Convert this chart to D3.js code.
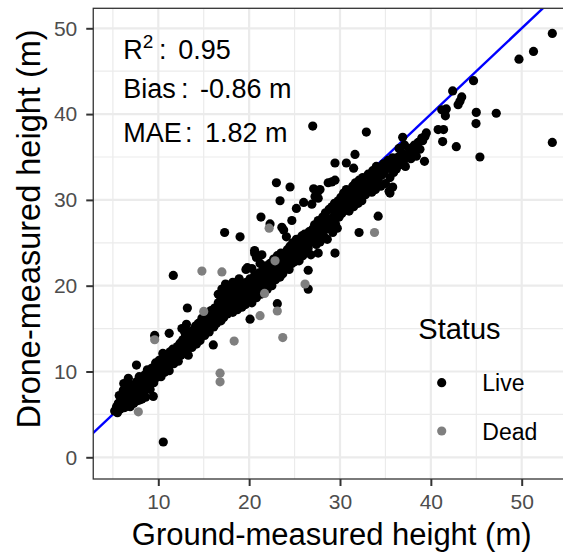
<!DOCTYPE html>
<html>
<head>
<meta charset="utf-8">
<script src="https://cdn.jsdelivr.net/npm/d3@7"></script>
<style>
  body { margin: 0; background: #fff; }
  text { font-family: "Liberation Sans", Arial, Helvetica, sans-serif; }
</style>
</head>
<body>
<div id="chart-area"></div>
<script>
// [ground-measured, drone-measured] heights in m
var livePoints = [
  // scattered / outliers
  [53.37, 49.4], [51.3, 47.3], [49.7, 46.4], [44.7, 43.9], [42.4, 42.7], [43.4, 42.0], [43.2, 41.5], [43.0, 41.1],
  [41.2, 40.5], [41.7, 40.6], [41.6, 39.8], [45.0, 40.2], [47.2, 40.1], [44.97, 38.9], [53.37, 36.7], [45.4, 35.0],
  [42.8, 36.2], [41.3, 36.8], [40.8, 38.2], [41.4, 38.2], [39.5, 37.8], [39.35, 37.4], [39.1, 36.9], [36.9, 37.3],
  [32.9, 37.9], [39.3, 34.5], [38.1, 36.2], [37.7, 35.6], [38.25, 35.2], [31.65, 35.3], [29.45, 34.3], [30.7, 34.3],
  [31.5, 33.7], [34.2, 28.1], [32.1, 26.2], [35.5, 30.8], [29.1, 32.1], [29.45, 32.3], [27.8, 31.2], [27.0, 38.6],
  [23.0, 32.0], [24.5, 31.5], [23.4, 29.9], [27.1, 31.3], [27.6, 31.0], [28.7, 32.0], [26.0, 29.7], [25.2, 29.0],
  [26.9, 29.5], [27.6, 30.2], [21.3, 28.0], [22.3, 27.2], [23.6, 26.8], [24.7, 27.6], [23.8, 26.5], [17.3, 26.2],
  [19.0, 25.7], [11.65, 21.2], [19.65, 21.9], [20.6, 23.8], [21.2, 22.6], [19.2, 20.3], [10.55, 1.78], [7.6, 10.75],
  [6.7, 9.2], [9.6, 14.2], [11.2, 14.45], [10.5, 12.1], [16.05, 13.1], [13.2, 17.4], [20.1, 16.1], [23.1, 17.9],
  [26.5, 21.8], [26.5, 19.6], [27.6, 23.8], [29.45, 23.8], [24.1, 25.7], [27.25, 30.4], [34.0, 33.9], [35.4, 31.0],
  [35.8, 31.5], [20.6, 24.1], [20.8, 23.3], [21.4, 23.6], [19.8, 22.1], [20.3, 22.0], [12.6, 15.0], [13.1, 15.5],
  [12.9, 14.6], [16.6, 19.0], [17.0, 19.6], [17.4, 20.2], [17.8, 19.8], [18.2, 20.4], [18.6, 20.0], [18.9, 20.8],
  [16.9, 18.6], [17.6, 19.1],
  // main band
  [5.2, 5.4], [5.4, 5.9], [5.5, 5.2], [5.6, 6.3], [5.8, 5.6], [5.9, 6.8], [6.0, 5.9], [6.1, 6.4], [6.2, 7.4], [6.3, 5.8],
  [6.4, 6.9], [6.5, 6.2], [6.6, 7.8], [6.7, 6.6], [6.8, 7.1], [6.9, 5.9], [7.0, 8.4], [7.1, 6.8], [7.2, 7.5], [5.7, 7.2],
  [6.2, 8.6], [6.5, 7.3], [6.15, 7.8],
  [7.3, 6.3], [7.4, 8.0], [7.5, 7.1], [7.6, 8.8], [7.7, 6.6], [7.8, 7.7], [7.9, 9.4], [8.0, 8.3], [8.1, 7.2], [8.2, 9.0],
  [8.3, 8.6], [8.4, 7.6], [8.5, 9.6], [8.6, 8.1], [8.7, 9.1], [8.8, 10.2], [8.9, 8.5], [9.0, 9.7], [8.2, 6.8], [8.6, 7.0],
  [9.1, 7.9], [8.0, 6.7], [9.45, 7.1], [7.25, 6.3],
  [9.2, 9.0], [9.3, 10.4], [9.4, 9.5], [9.5, 8.7], [9.6, 10.0], [9.7, 11.0], [9.8, 9.3], [9.9, 10.5], [10.0, 9.8],
  [10.1, 11.3], [10.2, 10.2], [10.3, 9.4], [10.4, 10.8], [10.5, 11.6], [10.6, 10.3], [10.7, 9.9], [10.8, 11.1],
  [10.9, 12.0], [11.0, 10.6], [11.1, 11.5], [11.2, 10.1], [11.3, 12.3], [11.4, 11.0], [11.5, 11.8], [11.6, 12.6],
  [11.7, 10.9], [11.8, 11.4], [11.9, 12.2],
  [12.0, 11.7], [12.1, 12.9], [12.2, 11.2], [12.3, 12.4], [12.4, 13.3], [12.5, 11.9], [12.6, 12.7], [12.7, 13.7],
  [12.8, 12.2], [12.9, 13.0], [13.0, 14.2], [13.1, 12.6], [13.2, 13.5], [13.3, 11.9], [13.4, 14.6], [13.5, 13.0],
  [13.6, 13.9], [13.7, 12.8], [13.8, 14.8], [13.9, 13.4], [14.0, 14.2], [14.1, 15.3], [14.2, 13.2], [14.3, 14.0],
  [14.4, 15.6], [14.5, 14.4], [14.6, 13.6], [14.7, 15.0], [14.8, 16.2], [14.9, 14.6],
  [15.0, 15.3], [15.1, 14.2], [15.2, 16.0], [15.3, 15.0], [15.4, 16.6], [15.5, 15.6], [15.6, 14.6], [15.7, 16.3],
  [15.8, 17.1], [15.9, 15.8], [16.0, 16.7], [16.1, 15.2], [16.2, 17.4], [16.3, 16.2], [16.4, 15.6], [16.5, 17.0],
  [16.6, 18.0], [16.7, 16.5], [16.8, 17.5], [16.9, 15.9], [17.0, 18.3], [17.1, 17.0], [17.2, 16.3], [17.3, 17.8],
  [17.4, 18.8], [17.5, 17.3], [17.6, 16.7], [17.7, 18.4], [17.8, 19.3], [17.9, 17.6],
  [18.0, 17.4], [18.1, 18.6], [18.2, 16.9], [18.3, 18.1], [18.4, 19.2], [18.5, 17.7], [18.6, 18.9], [18.7, 17.2],
  [18.8, 18.4], [18.9, 19.5], [19.0, 17.9], [19.1, 18.8], [19.2, 17.5], [19.3, 19.9], [19.4, 18.3], [19.5, 19.1],
  [19.6, 17.8], [19.7, 20.4], [19.8, 18.7], [19.9, 19.6], [20.0, 18.2], [20.1, 20.8], [20.2, 19.3], [20.3, 18.0],
  [20.4, 20.1], [20.5, 19.0], [20.6, 21.2], [20.7, 19.7], [20.8, 18.6], [20.9, 20.5],
  [21.0, 19.4], [21.1, 21.5], [21.2, 20.2], [21.3, 19.0], [21.4, 20.9], [21.5, 21.8], [21.6, 19.8], [21.7, 20.6],
  [21.8, 22.3], [21.9, 21.1], [22.0, 19.6], [22.1, 21.7], [22.2, 20.4], [22.3, 22.6], [22.4, 21.2], [22.5, 20.0],
  [22.6, 22.0], [22.7, 23.1], [22.8, 21.5], [22.9, 20.7], [23.0, 22.4], [23.1, 23.5], [23.2, 21.8], [23.3, 22.9],
  [23.4, 21.0], [23.5, 23.8], [23.6, 22.3], [23.7, 21.4], [23.8, 23.2], [23.9, 22.6],
  [24.0, 23.6], [24.1, 22.1], [24.2, 24.2], [24.3, 23.0], [24.4, 21.9], [24.5, 24.6], [24.6, 23.4], [24.7, 22.6],
  [24.8, 25.0], [24.9, 23.9], [25.0, 22.8], [25.1, 24.5], [25.2, 25.4], [25.3, 23.6], [25.4, 24.1], [25.5, 22.9],
  [25.6, 25.1], [25.7, 24.0], [25.8, 25.8], [25.9, 23.5], [26.0, 24.7], [26.1, 26.0], [26.2, 25.2], [26.3, 23.9],
  [26.4, 25.6], [26.5, 24.4], [26.6, 26.3], [26.7, 25.0], [26.8, 23.6], [26.9, 25.9],
  [27.0, 26.6], [27.1, 25.3], [27.2, 27.1], [27.3, 25.9], [27.4, 24.8], [27.5, 26.9], [27.6, 27.6], [27.7, 26.0],
  [27.8, 25.1], [27.9, 27.3], [28.0, 26.4], [28.1, 28.0], [28.2, 25.8], [28.3, 27.0], [28.4, 28.5], [28.5, 26.6],
  [28.6, 25.4], [28.7, 27.8], [28.8, 28.9], [28.9, 26.9], [29.0, 27.5], [29.1, 29.2], [29.2, 26.2], [29.3, 28.1],
  [29.4, 29.6], [29.5, 27.2], [29.6, 28.6], [29.7, 26.7], [29.8, 29.9], [29.9, 28.0],
  [30.0, 29.0], [30.1, 30.3], [30.2, 28.4], [30.3, 29.6], [30.4, 30.8], [30.5, 28.9], [30.6, 29.9], [30.7, 31.2],
  [30.8, 29.3], [30.9, 30.5], [31.0, 28.7], [31.1, 31.0], [31.2, 29.8], [31.3, 30.4], [31.4, 31.6], [31.5, 29.2],
  [31.6, 30.9], [31.7, 32.0], [31.8, 30.0], [31.9, 31.3], [32.0, 29.6], [32.1, 32.3], [32.2, 30.7], [32.3, 31.6],
  [32.4, 29.9], [32.5, 32.6], [32.6, 31.1],
  [32.8, 30.6], [33.0, 31.9], [33.1, 33.0], [33.2, 31.4], [33.4, 32.5], [33.5, 30.9], [33.6, 33.4], [33.8, 32.0],
  [33.9, 31.2], [34.0, 33.1], [34.2, 32.4], [34.3, 33.8], [34.5, 31.6], [34.6, 32.9], [34.8, 34.2], [34.9, 33.3],
  [35.0, 31.9], [35.2, 33.7], [35.3, 34.6], [35.5, 32.6], [35.6, 33.9], [35.8, 34.9], [35.9, 33.2], [36.0, 34.4],
  [36.2, 33.6], [36.4, 35.0], [36.6, 34.1], [36.8, 35.5], [37.0, 34.6], [37.2, 33.9], [37.4, 35.2], [37.6, 36.0],
  [37.8, 34.8], [38.0, 35.6], [38.2, 36.4], [38.4, 35.1], [38.6, 36.7], [38.8, 35.9], [39.0, 37.2], [37.1, 36.4],
  [36.5, 36.0]
];

var deadPoints = [
  [33.8, 26.2], [22.2, 26.7], [14.8, 21.7], [17.0, 21.6], [7.8, 5.3], [16.8, 9.8], [16.8, 8.8], [9.6, 13.7],
  [18.35, 13.55], [15.0, 17.0], [21.2, 16.5], [23.1, 17.05], [23.7, 13.95], [21.7, 19.1], [26.15, 20.2], [22.85, 22.9]
];

var statusLabels = ["Live", "Dead"];
var statusColors = ["#000000", "#7f7f7f"];

var xTicks = [10, 20, 30, 40, 50];
var yTicks = [0, 10, 20, 30, 40, 50];
var xMinor = [5, 15, 25, 35, 45, 55];
var yMinor = [5, 15, 25, 35, 45];

var stats = [
  { label: "Bias", value: "-0.86 m" },
  { label: "MAE", value: "1.82 m" }
];
var r2Value = "0.95";

var totalW = 563, totalH = 552;
var margin = { left: 93.25, right: -12.3, top: 8.3, bottom: 73 };
var width = totalW - margin.left - margin.right;
var height = totalH - margin.top - margin.bottom;

var svg = d3.select("#chart-area")
    .append("svg")
    .attr("width", totalW)
    .attr("height", totalH);

var group = svg.append("g")
    .attr("transform", "translate(" + margin.left + "," + margin.top + ")");

var x = d3.scaleLinear()
    .domain([2.84, 55.9])
    .range([0, width]);

var y = d3.scaleLinear()
    .domain([-2.53, 52.33])
    .range([height, 0]);

svg.append("defs").append("clipPath")
    .attr("id", "panel-clip")
    .append("rect")
    .attr("width", width)
    .attr("height", height);

// grid lines
var grid = group.append("g");
grid.selectAll(".xminor").data(xMinor).enter().append("line")
    .attr("x1", d => x(d)).attr("x2", d => x(d))
    .attr("y1", 0).attr("y2", height)
    .attr("stroke", "#ebebeb").attr("stroke-width", 1.2);
grid.selectAll(".yminor").data(yMinor).enter().append("line")
    .attr("y1", d => y(d)).attr("y2", d => y(d))
    .attr("x1", 0).attr("x2", width)
    .attr("stroke", "#ebebeb").attr("stroke-width", 1.2);
grid.selectAll(".xmajor").data(xTicks).enter().append("line")
    .attr("x1", d => x(d)).attr("x2", d => x(d))
    .attr("y1", 0).attr("y2", height)
    .attr("stroke", "#ebebeb").attr("stroke-width", 2.2);
grid.selectAll(".ymajor").data(yTicks).enter().append("line")
    .attr("y1", d => y(d)).attr("y2", d => y(d))
    .attr("x1", 0).attr("x2", width)
    .attr("stroke", "#ebebeb").attr("stroke-width", 2.2);

var plotArea = group.append("g").attr("clip-path", "url(#panel-clip)");

// 1:1 line
plotArea.append("line")
    .attr("x1", x(0)).attr("y1", y(0))
    .attr("x2", x(60)).attr("y2", y(60))
    .attr("stroke", "#0000ff")
    .attr("stroke-width", 2.4);

plotArea.selectAll(".live")
    .data(livePoints)
    .enter()
    .append("circle")
    .attr("cx", d => x(d[0]))
    .attr("cy", d => y(d[1]))
    .attr("r", 4.6)
    .attr("fill", statusColors[0]);

plotArea.selectAll(".dead")
    .data(deadPoints)
    .enter()
    .append("circle")
    .attr("cx", d => x(d[0]))
    .attr("cy", d => y(d[1]))
    .attr("r", 4.6)
    .attr("fill", statusColors[1]);

// panel border
group.append("rect")
    .attr("width", width)
    .attr("height", height)
    .attr("fill", "none")
    .attr("stroke", "#333333")
    .attr("stroke-width", 1.3);

// axes
var xAxisGroup = group.append("g")
    .attr("transform", "translate(0," + height + ")")
    .call(d3.axisBottom(x).tickValues(xTicks).tickSize(7).tickPadding(8).tickSizeOuter(0));

var yAxisGroup = group.append("g")
    .call(d3.axisLeft(y).tickValues(yTicks).tickSize(7).tickPadding(9).tickSizeOuter(0));

[xAxisGroup, yAxisGroup].forEach(function (g) {
    g.select(".domain").remove();
    g.selectAll(".tick line").attr("stroke", "#333333").attr("stroke-width", 2);
    g.selectAll(".tick text")
        .attr("fill", "#4d4d4d")
        .attr("font-size", "21px")
        .style("font-family", "'Liberation Sans', Arial, sans-serif");
});

// axis titles
svg.append("text")
    .attr("x", 331.7)
    .attr("y", 545)
    .attr("text-anchor", "middle")
    .attr("font-size", "31px")
    .text("Ground-measured height (m)");

svg.append("text")
    .attr("transform", "translate(40,229) rotate(-90)")
    .attr("text-anchor", "middle")
    .attr("font-size", "32.5px")
    .text("Drone-measured height (m)");

// annotation
var note = svg.append("g").attr("font-size", "27px").attr("fill", "#000");
var r2 = note.append("text").attr("x", 123.3).attr("y", 59.3);
r2.append("tspan").text("R");
r2.append("tspan").attr("font-size", "19px").attr("dy", -11).text("2");
note.append("text").attr("x", 159).attr("y", 59.3).text(":");
note.append("text").attr("x", 178.3).attr("y", 59.3).text(r2Value);

var statX = [[181, 200], [185, 205]];
var statY = [97.7, 141.7];
stats.forEach(function (s, i) {
    note.append("text").attr("x", 123.3).attr("y", statY[i]).text(s.label);
    note.append("text").attr("x", statX[i][0]).attr("y", statY[i]).text(":");
    note.append("text").attr("x", statX[i][1]).attr("y", statY[i]).text(s.value);
});

// legend
var legend = svg.append("g");
legend.append("text")
    .attr("x", 418.3)
    .attr("y", 339.3)
    .attr("font-size", "29px")
    .text("Status");

var legendY = [382.7, 431];
statusLabels.forEach(function (lab, i) {
    legend.append("circle")
        .attr("cx", 441.7)
        .attr("cy", legendY[i])
        .attr("r", 4.6)
        .attr("fill", statusColors[i]);
    legend.append("text")
        .attr("x", 482.3)
        .attr("y", legendY[i] + 8.5)
        .attr("font-size", "23px")
        .text(lab);
});
</script>
</body>
</html>
